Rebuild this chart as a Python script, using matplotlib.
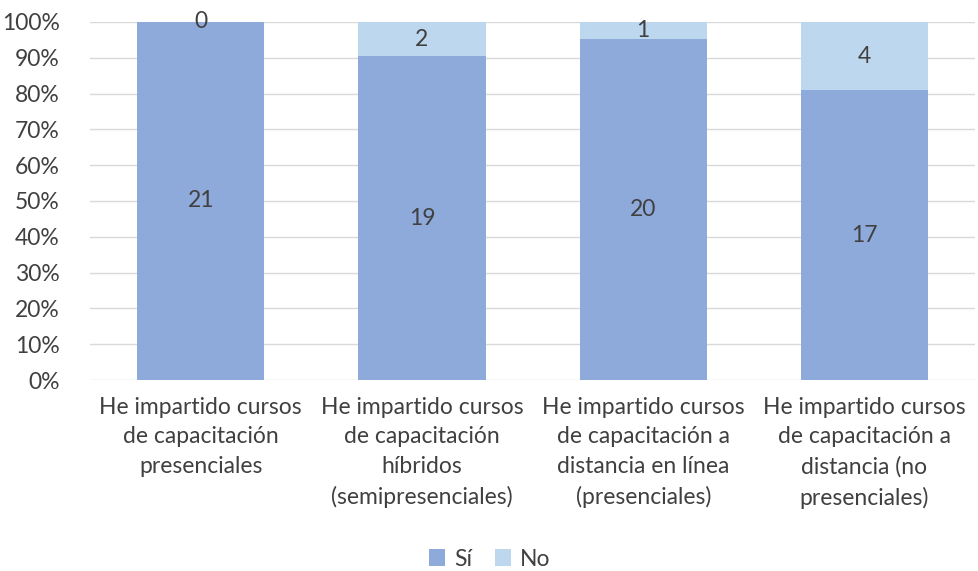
import matplotlib
matplotlib.use("Agg")
import matplotlib.pyplot as plt
import numpy as np

categories = [
    "He impartido cursos\nde capacitación\npresenciales",
    "He impartido cursos\nde capacitación\nhíbridos\n(semipresenciales)",
    "He impartido cursos\nde capacitación a\ndistancia en línea\n(presenciales)",
    "He impartido cursos\nde capacitación a\ndistancia (no\npresenciales)",
]
si_counts = [21, 19, 20, 17]
no_counts = [0, 2, 1, 4]

plt.rcParams['font.family'] = ['Lato', 'DejaVu Sans']
text_col = '#404040'
fs = 16.5

si = np.array(si_counts, dtype=float)
no = np.array(no_counts, dtype=float)
tot = si + no
si_pct = si / tot
no_pct = no / tot

fig = plt.figure(figsize=(9.79, 5.71), dpi=100)
ax = fig.add_axes([0.092, 0.3345, 0.904, 0.627])
x = np.arange(len(categories))
w = 0.575
ax.bar(x, si_pct, w, color='#8eaadb', label='Sí', zorder=3)
ax.bar(x, no_pct, w, bottom=si_pct, color='#bdd7ee', label='No', zorder=3)

for i in range(len(x)):
    ax.text(x[i], si_pct[i] / 2, f"{si_counts[i]}", ha='center', va='center',
            fontsize=fs, color=text_col, zorder=4)
    ax.text(x[i], si_pct[i] + no_pct[i] / 2, f"{no_counts[i]}", ha='center', va='center',
            fontsize=fs, color=text_col, zorder=4)

ax.set_xlim(-0.5, len(x) - 0.5)
ax.set_ylim(0, 1)
ax.set_yticks(np.arange(0, 1.01, 0.1))
ax.set_yticklabels([f"{int(round(v * 100))}%" for v in np.arange(0, 1.01, 0.1)])
ax.yaxis.grid(True, color='#d9d9d9', linewidth=1, zorder=0)
ax.set_xticks(x)
ax.set_xticklabels(categories, linespacing=1.5)
ax.tick_params(axis='both', length=0, labelsize=fs, colors=text_col)
ax.tick_params(axis='x', pad=12)
ax.tick_params(axis='y', pad=22)
for s in ax.spines.values():
    s.set_visible(False)

fig.legend(loc='center', bbox_to_anchor=(0.5, 0.021), ncol=2, frameon=False,
           fontsize=fs, handlelength=0.7, handleheight=0.7, handletextpad=0.4,
           columnspacing=1.0, labelcolor=text_col)

fig.savefig("out.png", dpi=100)
